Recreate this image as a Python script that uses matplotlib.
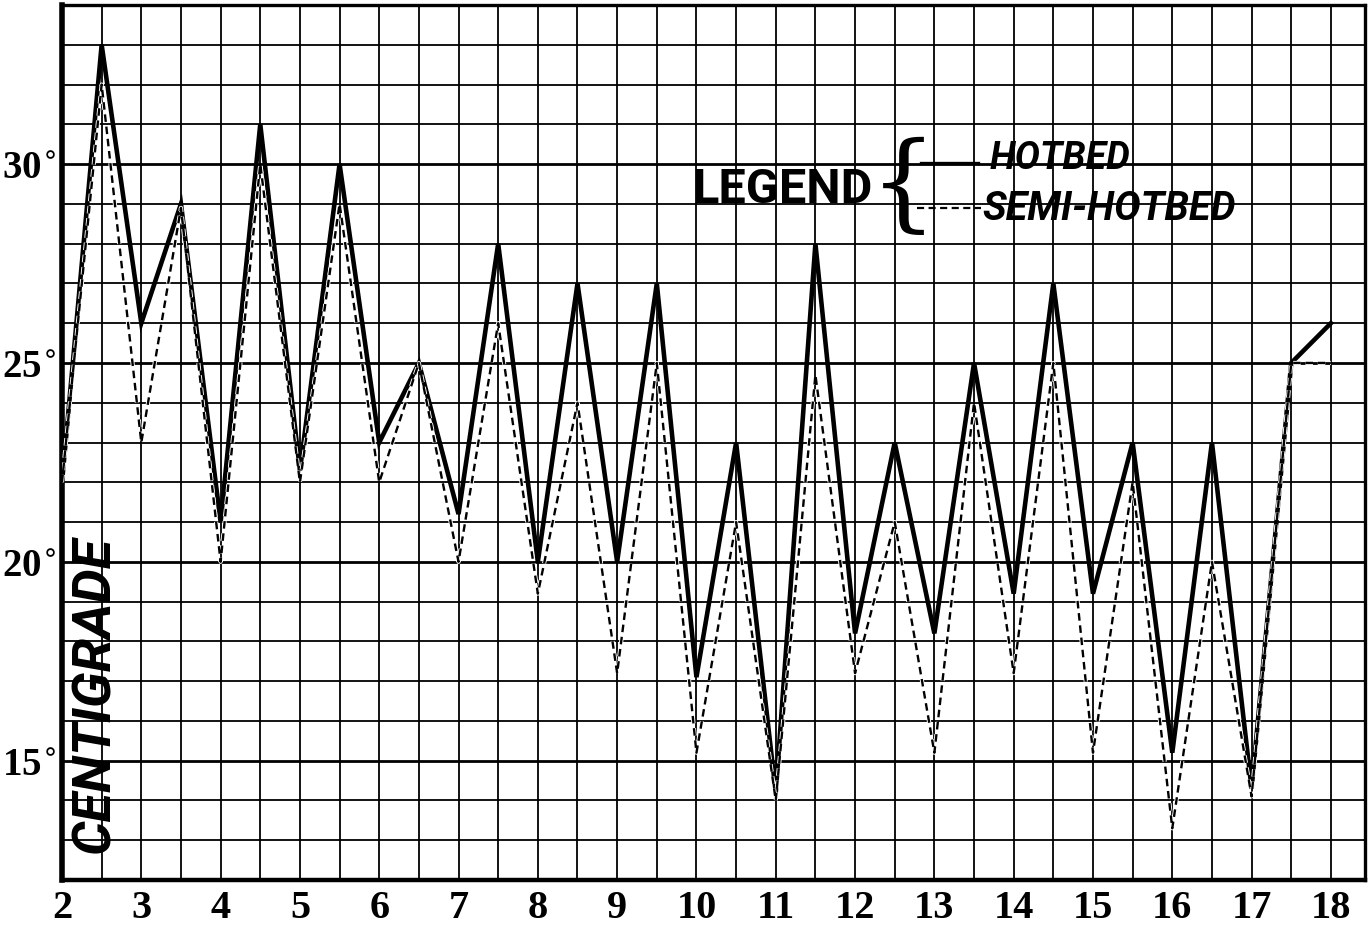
import numpy as np
import matplotlib.pyplot as plt
from matplotlib.lines import Line2D
import matplotlib.patheffects as pe

days = [2, 2.5, 3, 3.5, 4, 4.5, 5, 5.5, 6, 6.5, 7, 7.5, 8, 8.5, 9, 9.5, 10,
        10.5, 11, 11.5, 12, 12.5, 13, 13.5, 14, 14.5, 15, 15.5, 16, 16.5, 17, 17.5, 18]
hotbed = [22, 33, 26, 29, 21, 31, 22.3, 30, 23, 25, 21.2, 28, 20, 27, 20, 27, 17.1,
          23, 14.2, 28, 18.2, 23, 18.2, 25, 19.2, 27, 19.2, 23, 15.2, 23, 14.3, 25, 26]
semi_hotbed = [22, 32, 23, 28.9, 20, 30, 22, 29, 22, 25, 20, 26, 19.2, 24, 17.2, 25, 15.2,
               21, 14, 24.7, 17.2, 21, 15.2, 24, 17.2, 25, 15.2, 22, 13.3, 20, 14.1, 25, 25]

day_ticks = list(range(2, 19))
temp_ticks = [15, 20, 25, 30]

fig = plt.figure(figsize=(13.68, 9.25), dpi=100)
ax = fig.add_axes([62 / 1368, 45 / 925, 1303 / 1368, 875 / 925])

ax.set_xlim(2, 18.43)
ax.set_ylim(12, 34)

# graph paper grid
ax.set_xticks(day_ticks)
ax.set_xticks(np.arange(2.5, 18.5, 1.0), minor=True)
ax.set_yticks(temp_ticks)
ax.set_yticks(np.arange(13, 34, 1), minor=True)
ax.grid(True, axis="x", which="both", color="black", lw=1.3)
ax.grid(True, axis="y", which="minor", color="black", lw=1.3)
ax.grid(True, axis="y", which="major", color="black", lw=2.0)
ax.set_axisbelow(True)

ax.tick_params(which="both", length=0)
ax.tick_params(axis="x", pad=7)
ax.tick_params(axis="y", pad=4)
ax.set_xticklabels([str(d) for d in day_ticks], fontfamily="Liberation Serif",
                   fontweight="bold", fontsize=29)
ax.set_yticklabels([f"{t}$^{{\\circ}}$" for t in temp_ticks], fontfamily="Liberation Serif",
                   fontweight="bold", fontsize=28)

for side, w in [("left", 4), ("bottom", 3.2), ("top", 2.4), ("right", 2.4)]:
    ax.spines[side].set_linewidth(w)
    ax.spines[side].set_color("black")

ax.plot(days, hotbed, color="black", lw=3.3, solid_joinstyle="miter", zorder=3)
ax.plot(days, semi_hotbed, color="black", lw=1.7, dashes=(3.2, 2.0), zorder=4,
        path_effects=[pe.Stroke(linewidth=3.0, foreground="white"), pe.Normal()])

ax.text(0.025, 0.212, "CENTIGRADE", transform=ax.transAxes, rotation=90,
        ha="center", va="center", fontfamily="Roboto", fontweight="bold",
        fontstyle="italic", fontsize=39, zorder=5)

# legend
ax.text(0.484, 0.789, "LEGEND", transform=ax.transAxes, ha="left", va="center",
        fontfamily="Roboto", fontweight="bold", fontsize=35, zorder=5)
ax.text(0.646, 0.79, "{", transform=ax.transAxes, ha="center", va="center",
        fontfamily="DejaVu Serif", fontsize=76, zorder=5)
ax.add_line(Line2D([0.659, 0.703], [0.819, 0.819], transform=ax.transAxes,
                   color="black", lw=2.4, zorder=5))
ax.add_line(Line2D([0.656, 0.705], [0.768, 0.768], transform=ax.transAxes,
                   color="black", lw=1.6, dashes=(3.2, 2.0), zorder=5))
ax.text(0.712, 0.825, "HOTBED", transform=ax.transAxes, ha="left", va="center",
        fontfamily="Roboto", fontweight="bold", fontstyle="italic", fontsize=27, zorder=5)
ax.text(0.706, 0.767, "SEMI-HOTBED", transform=ax.transAxes, ha="left", va="center",
        fontfamily="Roboto", fontweight="bold", fontstyle="italic", fontsize=28.5, zorder=5)

fig.savefig("out.png", dpi=100)
